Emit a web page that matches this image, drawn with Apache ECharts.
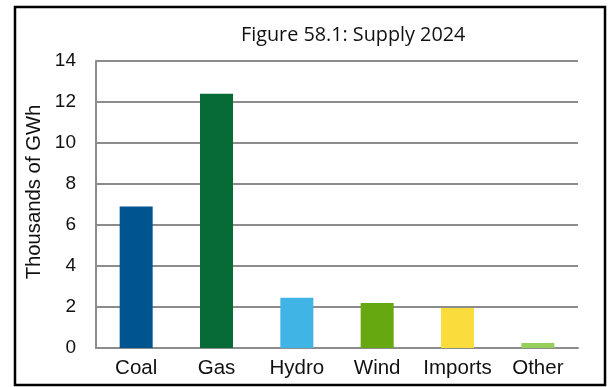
<!DOCTYPE html>
<html>
<head>
<meta charset="utf-8">
<script src="https://cdn.jsdelivr.net/npm/echarts@6/dist/echarts.min.js"></script>
<style>
  html, body { margin: 0; padding: 0; background: #fff; }
  #chart { width: 612px; height: 387px; }
</style>
</head>
<body>
<div id="chart"></div>
<script>
// Electricity supply by source, 2024 (thousands of GWh)
const categories = ['Coal', 'Gas', 'Hydro', 'Wind', 'Imports', 'Other'];
const supplyValues = [6.9, 12.4, 2.45, 2.2, 1.95, 0.25];
const barColors = ['#005591', '#076B38', '#41B4E6', '#66A80F', '#FADC3C', '#96CE5A'];
const yTicks = { min: 0, max: 14, interval: 2 };

const chart = echarts.init(document.getElementById('chart'), null, { renderer: 'canvas' });

const labelFont = '"Liberation Sans", Arial, sans-serif';

chart.setOption({
  animation: false,
  backgroundColor: '#ffffff',
  title: {
    text: 'Figure 58.1: Supply 2024',
    left: 236,
    top: 20,
    textStyle: {
      fontFamily: '"Open Sans", sans-serif',
      fontWeight: 'normal',
      fontSize: 19.8,
      color: '#111'
    }
  },
  graphic: [{
    type: 'rect',
    shape: { x: 15, y: 7, width: 590, height: 378 },
    style: { fill: 'none', stroke: '#000', lineWidth: 2.5 },
    z: 100
  }],
  grid: { left: 96, right: 34, top: 61, bottom: 39 },
  xAxis: {
    type: 'category',
    data: categories,
    axisLine: { lineStyle: { color: '#8c8c8c', width: 2 } },
    axisTick: { show: false },
    axisLabel: {
      interval: 0,
      margin: 10,
      fontFamily: labelFont,
      fontSize: 20.5,
      color: '#111'
    }
  },
  yAxis: {
    type: 'value',
    min: yTicks.min,
    max: yTicks.max,
    interval: yTicks.interval,
    name: 'Thousands of GWh',
    nameLocation: 'middle',
    nameGap: 50,
    nameTextStyle: {
      fontFamily: labelFont,
      fontSize: 20.3,
      color: '#111',
      padding: [0, 0, 0, 25]
    },
    axisLine: { show: true, lineStyle: { color: '#8c8c8c', width: 2 } },
    axisTick: { show: false },
    splitLine: { lineStyle: { color: '#8c8c8c', width: 2 } },
    axisLabel: {
      margin: 20,
      fontFamily: labelFont,
      fontSize: 19,
      color: '#111'
    }
  },
  series: [{
    type: 'bar',
    data: supplyValues.map((v, i) => ({ value: v, itemStyle: { color: barColors[i] } })),
    barWidth: 33
  }]
});
</script>
</body>
</html>
